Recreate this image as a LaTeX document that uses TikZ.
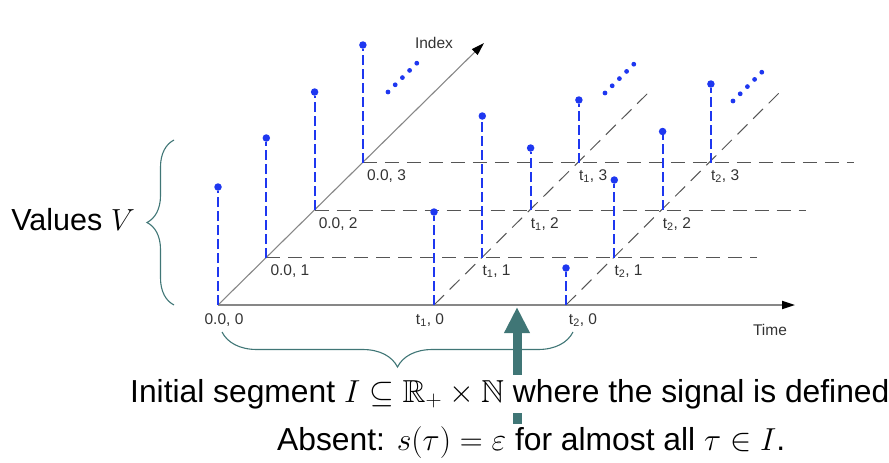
\documentclass[tikz,border=0pt]{standalone}
\usepackage{fix-cm}
\usepackage{amsmath,amssymb}
\usepackage{fontspec}
\setmainfont{Liberation Sans}
\usetikzlibrary{arrows.meta,decorations.pathreplacing,calc}
\definecolor{stemblue}{RGB}{30,55,240}
\definecolor{braceteal}{RGB}{64,118,118}
\definecolor{gridgray}{RGB}{85,85,85}
\definecolor{axisgray}{RGB}{135,135,135}
\begin{document}
\begin{tikzpicture}[x=1pt,y=-1pt,
  stem/.style={stemblue,line width=1.8pt,dash pattern=on 10pt off 4pt},
  dot/.style={circle,fill=stemblue,inner sep=0pt,minimum size=7.5pt},
  grid/.style={gridgray,line width=1pt,dash pattern=on 14pt off 8pt},
  axis/.style={axisgray,-{Triangle[length=13pt,width=8pt,color=black]}},
  lbl/.style={font=\fontsize{15.5}{16}\selectfont,text=black!80,inner sep=1pt},
  brc/.style={braceteal,line width=1.1pt,decorate},
  big/.style={font=\fontsize{31.8}{38}\selectfont,inner sep=2pt}]
\useasboundingbox (0,0) rectangle (889,463);
\foreach \n/\x in {0/218,1/434,2/566}\foreach \j in {0,...,3}\coordinate (p\n\j) at (\x+48.3*\j,305-47.5*\j);
\foreach \j in {1,2,3}\draw[grid](p0\j)--+(491,0);
\draw[grid](p10)--+(214,-212);\draw[grid](p20)--+(214,-213);
\coordinate (tend) at (795,305);\coordinate (iend) at (484,43);
\draw[axis,line width=1.9pt](p00)--(tend);\draw[axis,line width=1.1pt](p00)--(iend);
\node[lbl] (time) at (770,330){Time};\node[lbl] (index) at (434,43){Index};
\foreach \n/\j/\h in {0/0/118,0/1/119.5,0/2/118,0/3/117.5,1/0/93,1/1/141.5,1/2/62,1/3/62.5,2/0/37,2/1/77.5,2/2/78.5,2/3/78.5}{
  \path (p\n\j)++(0,-\h) node[dot](v\n\j){};\draw[stem](p\n\j)--(v\n\j);}
\foreach \a/\b in {388/92,605/93,733/101}\foreach \k in {0,...,4}\fill[stemblue](\a+7.2*\k,\b-7.2*\k)circle(2.4);
\node[lbl,below=7pt,xshift=6pt] (l00) at (p00){0.0, 0};
\node[lbl,below=7pt,xshift=-4pt] (l10) at (p10){t\textsubscript{1}, 0};
\node[lbl,below=7pt,xshift=17pt] (l20) at (p20){t\textsubscript{2}, 0};
\foreach \j in {1,2,3}{
  \node[lbl,anchor=north west,xshift=3pt,yshift=-6pt] (l0\j) at (p0\j){0.0, \j};
  \node[lbl,anchor=north west,xshift=-1pt,yshift=-6pt] (l1\j) at (p1\j){t\textsubscript{1}, \j};
  \node[lbl,anchor=north west,xshift=-1pt,yshift=-6pt] (l2\j) at (p2\j){t\textsubscript{2}, \j};}
\coordinate (vb) at (174,305);\coordinate (vt) at (174,140);
\draw[brc,decoration={brace,amplitude=27pt}](vb)--(vt);
\node[big,anchor=east,font=\fontsize{30.5}{36}\selectfont] (values) at (137,220){Values $V$};
\coordinate (bl) at (222,332);\coordinate (br) at (573,332);
\draw[brc,decoration={brace,amplitude=35pt}](br)--(bl);
\node[big,anchor=base west] (absent) at (275,450){Absent: $s(\tau)=\varepsilon$ for almost all $\tau\in I$.};
\coordinate (tip) at (517,307);
\draw[braceteal,line width=9pt,-{Triangle[length=26pt,width=24pt]}](tip |- absent.north)--(tip);
\node[big,anchor=base west,fill=white,inner ysep=4pt] (segment) at (128,402){Initial segment $I\subseteq\mathbb{R}_+\times\mathbb{N}$ where the signal is defined};
\end{tikzpicture}
\end{document}
